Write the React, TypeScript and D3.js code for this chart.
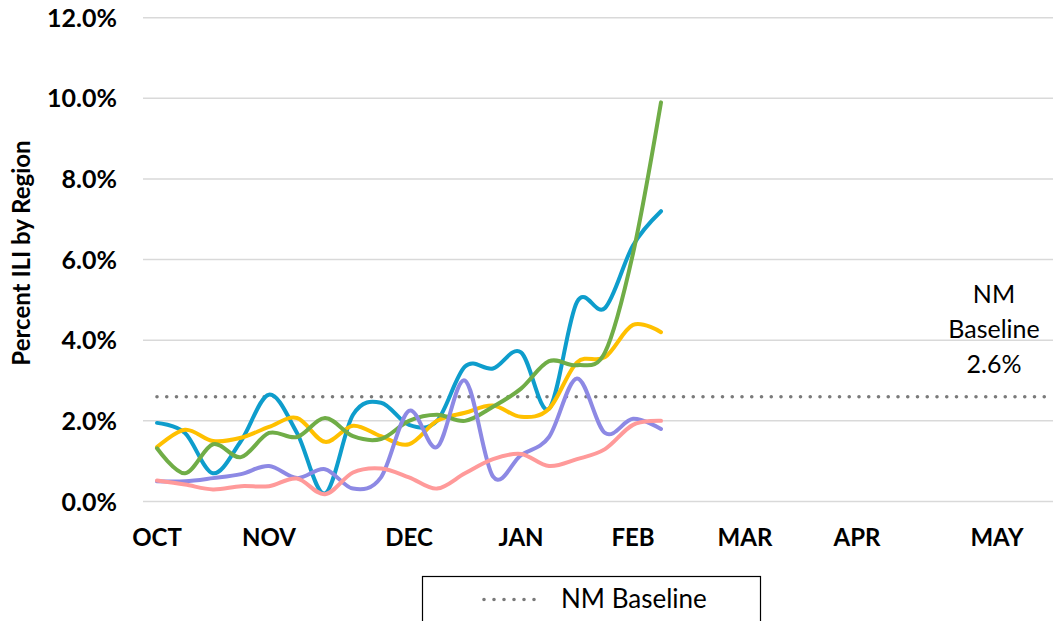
import React from "react";
import * as d3 from "d3";

const weekCount = 33;
const monthLabels = ["OCT", "NOV", "DEC", "JAN", "FEB", "MAR", "APR", "MAY"];
const monthWeekIndex = [0, 4, 9, 13, 17, 21, 25, 30];
const yTicks = [0, 2, 4, 6, 8, 10, 12];

const seriesBlue = [1.95, 1.7, 0.7, 1.5, 2.65, 1.7, 0.2, 2.15, 2.45, 1.9, 2.0, 3.35, 3.3, 3.7, 2.3, 4.95, 4.8, 6.35, 7.2];
const seriesYellow = [1.35, 1.78, 1.5, 1.58, 1.85, 2.07, 1.48, 1.88, 1.62, 1.42, 2.0, 2.2, 2.38, 2.1, 2.3, 3.45, 3.58, 4.38, 4.2];
const seriesGreen = [1.32, 0.7, 1.42, 1.1, 1.7, 1.6, 2.07, 1.62, 1.55, 2.0, 2.15, 2.0, 2.35, 2.8, 3.48, 3.38, 3.7, 6.15, 9.9];
const seriesPurple = [0.5, 0.5, 0.58, 0.68, 0.88, 0.58, 0.8, 0.32, 0.6, 2.25, 1.35, 3.0, 0.62, 1.15, 1.6, 3.05, 1.7, 2.05, 1.8];
const seriesPink = [0.52, 0.42, 0.3, 0.38, 0.38, 0.57, 0.18, 0.72, 0.82, 0.6, 0.32, 0.7, 1.05, 1.18, 0.88, 1.05, 1.3, 1.9, 2.0];
const baselineValue = 2.6;

const regionSeries = [
  { name: "Region A", values: seriesBlue, color: "#0e9dcc" },
  { name: "Region B", values: seriesYellow, color: "#ffc000" },
  { name: "Region C", values: seriesGreen, color: "#70ad47" },
  { name: "Region D", values: seriesPurple, color: "#8d89e4" },
  { name: "Region E", values: seriesPink, color: "#ff9a9a" },
];

const W = 1053;
const H = 621;
const plotLeft = 143;
const bandW = 28;
const plotTop = 17.7;
const plotBottom = 501.5;
const FONT = "Lato, 'Open Sans', sans-serif";

export default function App() {
  const weeks = d3.range(weekCount);
  const xb = d3.scaleBand<number>().domain(weeks).range([plotLeft, plotLeft + bandW * weekCount]).padding(0);
  const x = (i: number) => (xb(i) as number) + xb.bandwidth() / 2;
  const y = d3.scaleLinear().domain([0, 12]).range([plotBottom, plotTop]);

  const line = d3
    .line<number>()
    .x((_, i) => x(i))
    .y((d) => y(d))
    .curve(d3.curveCardinal.tension(0));

  const baseline = weeks.map(() => baselineValue);
  const baseLine = d3.line<number>().x((_, i) => x(i)).y((d) => y(d));

  return (
    <svg width={W} height={H} style={{ position: "absolute", left: 0, top: 0, background: "#fff" }}>
      {yTicks.map((t) => (
        <line key={"g" + t} x1={plotLeft} x2={plotLeft + bandW * weekCount} y1={y(t)} y2={y(t)} stroke="#d9d9d9" strokeWidth={1.5} />
      ))}
      {yTicks.map((t) => (
        <text key={"t" + t} x={117} y={y(t)} dy="0.36em" textAnchor="end" fontFamily={FONT} fontWeight="bold" fontSize={25} fill="#000">
          {t.toFixed(1) + "%"}
        </text>
      ))}
      <text transform={`translate(30,253) rotate(-90)`} textAnchor="middle" fontFamily={FONT} fontWeight="bold" fontSize={24} fill="#000">
        Percent ILI by Region
      </text>
      {monthLabels.map((m, k) => (
        <text key={m} x={x(monthWeekIndex[k])} y={546} textAnchor="middle" fontFamily={FONT} fontWeight="bold" fontSize={24} fill="#000">
          {m}
        </text>
      ))}
      <path d={baseLine(baseline) || ""} fill="none" stroke="#7a7a7a" strokeWidth={3.6} strokeLinecap="round" strokeDasharray="0 9.75" />
      {regionSeries.map((s) => (
        <path key={s.name} d={line(s.values) || ""} fill="none" stroke={s.color} strokeWidth={4} strokeLinejoin="round" strokeLinecap="round" />
      ))}
      <g fontFamily={FONT} fontSize={25} fill="#000" textAnchor="middle">
        <text x={994} y={303}>NM</text>
        <text x={994} y={338}>Baseline</text>
        <text x={994} y={373}>{baselineValue.toFixed(1) + "%"}</text>
      </g>
      <rect x={422.5} y={576.5} width={338} height={60} fill="#fff" stroke="#000" strokeWidth={1.2} />
      <line x1={484} x2={544} y1={599.5} y2={599.5} stroke="#7a7a7a" strokeWidth={3.6} strokeLinecap="round" strokeDasharray="0 10" />
      <text x={561} y={607.5} fontFamily={FONT} fontSize={26} fill="#000">NM Baseline</text>
    </svg>
  );
}
